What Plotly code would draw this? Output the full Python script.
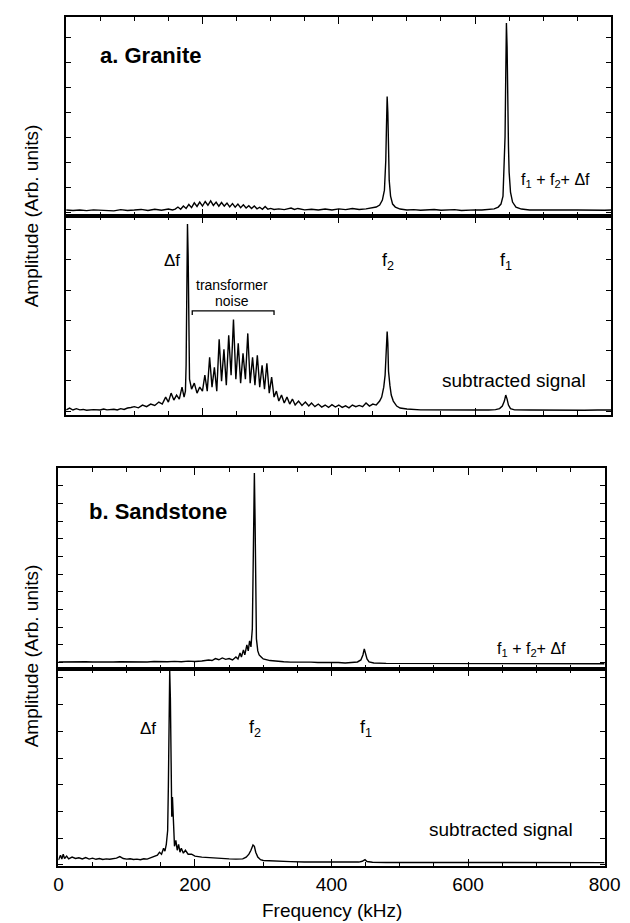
import plotly.graph_objects as go

# ---------------- data (frequency kHz, amplitude in % of panel height) -------------
ga_up_f = [0, 10, 20, 30, 40, 50, 60, 70, 80, 90, 100, 110, 120, 130, 140, 150, 156,
           160, 164, 168, 172, 176, 180, 184, 188, 192, 196, 200, 204, 208, 212, 216, 220, 224, 228,
           232, 236, 240, 244, 248, 252, 256, 260, 264, 268, 272, 276, 280, 284, 288, 292, 296, 300,
           305, 312, 320, 330, 335, 340, 350, 360, 370, 380,
           390, 400, 410, 420, 430, 440, 450, 455, 460, 464, 467, 469, 470, 471, 472, 473, 474, 476,
           479, 483, 490, 500, 510, 520, 530, 540, 550, 560, 570, 580, 590, 600, 610, 620, 628, 634,
           638, 641, 643, 644, 645, 646, 647, 648, 649, 650, 652, 655, 660, 668, 680, 690, 700, 710,
           720, 730, 740, 750, 760, 770, 780, 790, 800]
ga_up_a = [3.0, 2.8, 3.0, 2.7, 3.1, 2.9, 3.0, 2.6, 3.2, 2.8, 3.0, 3.3, 2.8, 3.4, 2.9, 3.5, 3.0,
           3.5, 4.5, 3.4, 5.0, 3.8, 5.8, 4.2, 6.6, 4.8, 7.0, 5.0, 7.3, 5.4, 7.6, 5.3, 7.0, 4.9, 6.8,
           5.0, 6.5, 4.6, 6.2, 4.4, 6.0, 4.2, 5.6, 4.0, 5.2, 3.8, 5.0, 3.6, 4.4, 3.4, 4.8, 3.4, 3.8,
           3.3, 3.6, 3.2, 4.0, 3.3, 3.8, 3.1, 3.4, 3.0, 3.5,
           3.0, 3.6, 3.2, 3.8, 3.3, 3.6, 4.0, 4.5, 5.5, 8.0, 13, 28, 45, 60, 52, 30, 18, 10,
           6, 4.5, 3.5, 3.0, 3.2, 2.9, 3.0, 3.3, 2.9, 3.0, 3.2, 2.8, 3.0, 3.1, 3.0, 3.3, 3.6, 4.5,
           6, 10, 25, 40, 70, 97, 85, 50, 35, 22, 12, 7, 4.5, 3.5, 3.0, 3.1, 2.9, 3.0,
           3.1, 2.9, 3.0, 3.0, 2.9, 3.1, 3.0, 2.9, 3.0]

ga_lo_f = [0, 5, 10, 15, 20, 25, 30, 40, 50, 55, 60, 70, 75, 80, 85, 90, 95,
           100, 106, 112, 118, 124, 130, 136, 141, 146, 150, 154, 158, 162, 166, 170, 173, 175,
           176, 177, 178, 179, 180, 181, 184, 188, 192, 196, 200,
           203.5, 207, 210.5, 214, 217.5, 221, 224.5, 228, 231.5, 235, 238.5, 242, 245.5, 249,
           252.5, 256, 259.5, 263, 266.5, 270, 273.5, 277, 280.5, 284, 287.5, 291, 294.5, 298,
           301.5, 305, 308.5, 312, 316, 320, 324, 328, 332, 336, 341, 346, 351, 356,
           360, 365, 370, 375, 380, 385, 390, 395, 400, 405, 410, 415, 420, 425, 430,
           435, 440, 445, 450, 455, 460, 463, 466, 468, 470, 471, 472, 473, 475, 477, 480, 485, 490,
           500, 520, 540, 560, 580, 600, 620, 630, 636, 640, 643, 645, 647, 649, 652, 658, 680, 700,
           720, 740, 760, 780, 800]
ga_lo_a = [2.5, 3.5, 2.5, 3.2, 2.6, 2.8, 2.4, 2.7, 2.5, 3.0, 2.6, 2.9, 2.5, 3.2, 2.8, 3.5, 3.8,
           4.2, 3.6, 5.0, 4.2, 5.5, 4.8, 6.5, 5.5, 9.0, 6.5, 11, 7.5, 10, 8, 14, 9, 12,
           25, 55, 96, 80, 40, 18, 13, 16, 11, 14, 12,
           20, 12, 29, 14, 24, 12, 38, 17, 33, 15, 40, 20, 48, 18,
           36, 16, 31, 18, 41, 16, 29, 15, 30, 14, 25, 13, 26, 11,
           19, 9, 12, 7, 10, 6, 9, 5.5, 8, 5, 7, 4.8, 6.5, 4.5,
           6, 4.2, 5.5, 4.0, 5.0, 3.8, 5.2, 4.0, 5.0, 3.8, 4.6, 3.6, 5.0, 4.2, 4.8,
           4.2, 6.0, 4.5, 5.5, 5.0, 7.0, 9.0, 14, 20, 34, 42, 36, 22, 15, 10, 7, 4.5, 3.5,
           3.0, 2.6, 2.5, 2.4, 2.5, 2.5, 2.5, 2.7, 3.2, 4.5, 7.0, 10, 8, 5, 3.2, 2.6, 2.5, 2.4,
           2.5, 2.5, 2.4, 2.5, 2.5]

sa_up_f = [0, 10, 20, 30, 40, 50, 60, 70, 80, 90, 100, 110, 120, 130, 140, 150, 160, 170, 180, 190,
           200, 210, 220, 225, 230, 235, 240, 245, 250, 255, 260, 263, 266, 268, 271, 273, 276, 278,
           280, 282, 284, 285, 286, 287, 288, 289, 290, 292, 294, 297, 300, 310, 320, 330, 340, 350,
           360, 370, 380, 390, 400, 410, 420, 430, 438, 443, 446, 448, 450, 452, 455, 462, 480, 500,
           520, 540, 560, 580, 600, 620, 640, 660, 680, 700, 720, 740, 760, 780, 800]
sa_up_a = [3.5, 3.6, 3.4, 3.5, 3.6, 3.5, 3.4, 3.6, 3.5, 3.6, 3.5, 3.4, 3.6, 3.5, 3.7, 3.5, 3.6, 3.8, 3.6, 3.9,
           3.7, 4.0, 4.5, 4.2, 5.2, 4.6, 5.5, 4.8, 5.2, 4.5, 6.0, 5.0, 8.0, 6.0, 9.5, 7.0, 12, 9.0,
           14, 11, 20, 45, 80, 97.5, 75, 40, 15, 9, 7, 6, 5, 4.2, 3.8, 3.6, 3.4, 3.5,
           3.3, 3.4, 3.2, 3.3, 3.1, 3.2, 3.0, 3.2, 3.5, 4.5, 7, 10, 8, 5, 3.5, 3.0, 2.8, 2.8,
           2.6, 2.7, 2.6, 2.7, 2.6, 2.7, 2.6, 2.7, 2.6, 2.7, 2.6, 2.7, 2.6, 2.7, 2.6]

sa_lo_f = [0, 3, 5, 7, 9, 12, 15, 20, 25, 30, 35, 40, 45, 50, 55, 60, 65, 70, 75, 80, 85, 90, 95,
           100, 105, 110, 115, 120, 125, 130, 135, 140, 145, 148, 151, 154, 156, 158, 160, 161, 162,
           163, 164, 165, 166, 167, 168, 169, 170, 172, 174, 176, 178, 180, 183, 186, 190, 195, 200,
           210, 220, 230, 240, 250, 260, 270, 275, 279, 282, 285, 287, 289, 292, 296, 300, 320, 340,
           360, 380, 400, 420, 440, 445, 449, 452, 460, 480, 500, 550, 600, 650, 700, 750, 800]
sa_lo_a = [3.0, 5.5, 3.5, 6.0, 3.8, 5.0, 3.6, 4.5, 3.8, 4.2, 3.6, 4.3, 3.5, 4.0, 3.4, 3.8, 3.3, 3.6, 3.4, 3.6, 4.0, 4.8, 3.8,
           3.5, 3.7, 3.3, 3.5, 3.2, 3.7, 3.5, 4.3, 5.0, 5.5, 7.0, 6.0, 9.0, 7.5, 11, 18, 40, 80,
           99, 85, 50, 25, 35, 23, 15, 10, 13, 8, 11, 7, 9, 6.5, 8, 6, 6.0, 5.0,
           4.5, 4.2, 4.0, 3.8, 3.6, 3.5, 3.6, 4.5, 6, 8, 10.7, 10, 7, 4.5, 3.2, 2.8, 2.4, 2.2,
           2.0, 2.0, 1.9, 1.9, 2.0, 2.4, 3.2, 2.3, 1.9, 1.8, 1.8, 1.8, 1.7, 1.7, 1.7, 1.7, 1.7]

x_tick_labels = ["0", "200", "400", "600", "800"]
x_tick_vals = [0, 200, 400, 600, 800]

# ---------------- figure -------------------------------------------------------------
W, H = 630, 923
FONT = "Liberation Sans, Arial, Helvetica, sans-serif"


def px(xp):
    return xp / W


def py(yp):
    return 1 - yp / H


fig = go.Figure()
series = [(ga_up_f, ga_up_a, "x", "y"), (ga_lo_f, ga_lo_a, "x2", "y2"),
          (sa_up_f, sa_up_a, "x3", "y3"), (sa_lo_f, sa_lo_a, "x4", "y4")]
for f, a, xa, ya in series:
    fig.add_trace(go.Scatter(x=f, y=a, xaxis=xa, yaxis=ya, mode="lines",
                             line=dict(color="black", width=1.4), showlegend=False,
                             hoverinfo="skip"))

# panel geometry (pixels): x-left, x-right, y-top, y-bottom
panels = {
    "1": (55, 619, 9, 208),
    "2": (55, 619, 208, 407),
    "3": (47, 612, 460, 661),
    "4": (47, 612, 661, 858),
}
ytick_spec = {"1": (2.0, 12.56), "2": (1.9, 15.2), "3": (3.2, 8.8), "4": (0.6, 13.55)}

layout = dict(width=W, height=H, margin=dict(l=0, r=0, t=0, b=0), autosize=False,
              paper_bgcolor="white", plot_bgcolor="white",
              font=dict(family=FONT, color="black", size=16))
for k, (xl, xr, yt, yb) in panels.items():
    xs = "xaxis" if k == "1" else "xaxis" + k
    ys = "yaxis" if k == "1" else "yaxis" + k
    yname = "y" if k == "1" else "y" + k
    xname = "x" if k == "1" else "x" + k
    layout[xs] = dict(domain=[px(xl), px(xr)], range=[0, 800], anchor=yname,
                      showline=True, linecolor="black", linewidth=1.8, mirror="allticks",
                      ticks="inside", ticklen=7, tickwidth=1.2, tickcolor="black",
                      tickvals=x_tick_vals, ticktext=x_tick_labels,
                      showticklabels=(k == "4"), tickfont=dict(size=19, family=FONT),
                      ticklabeloverflow="allow",
                      showgrid=False, zeroline=False, fixedrange=True,
                      minor=dict(dtick=50, tick0=0, ticks="inside", ticklen=4,
                                 tickwidth=1, tickcolor="black", showgrid=False))
    t0, dt = ytick_spec[k]
    layout[ys] = dict(domain=[py(yb), py(yt)], range=[0, 100], anchor=xname,
                      showline=True, linecolor="black", linewidth=1.8, mirror="allticks",
                      ticks="inside", ticklen=5, tickwidth=1.2, tickcolor="black",
                      tick0=t0, dtick=dt, showticklabels=False,
                      showgrid=False, zeroline=False, fixedrange=True)
fig.update_layout(**layout)

ann = []


def add_text(text, x, y, xref, yref, size, xanchor="center", bold=False, angle=0):
    ann.append(dict(text=("<b>%s</b>" % text) if bold else text, x=x, y=y, xref=xref, yref=yref,
                    showarrow=False, xanchor=xanchor, yanchor="middle", textangle=angle,
                    font=dict(size=size, family=FONT, color="black")))


# panel a
add_text("a. Granite", 46, 80.9, "x", "y", 22, xanchor="left", bold=True)
add_text("f<sub>1</sub> + f<sub>2</sub>+ Δf", 772, 17.6, "x", "y", 16, xanchor="right")
add_text("Δf", 156, 77.4, "x2", "y2", 17)
add_text("f<sub>2</sub>", 472, 77.0, "x2", "y2", 18)
add_text("f<sub>1</sub>", 646, 77.0, "x2", "y2", 18)
add_text("transformer", 244, 65.3, "x2", "y2", 14)
add_text("noise", 244, 57.3, "x2", "y2", 14)
add_text("subtracted signal", 548, 17.1, "x2", "y2", 19, xanchor="left")
# panel b
add_text("b. Sandstone", 42, 78.6, "x3", "y3", 22, xanchor="left", bold=True)
add_text("f<sub>1</sub> + f<sub>2</sub>+ Δf", 746, 9.5, "x3", "y3", 16, xanchor="right")
add_text("Δf", 131, 70.0, "x4", "y4", 17)
add_text("f<sub>2</sub>", 288, 70.0, "x4", "y4", 18)
add_text("f<sub>1</sub>", 450, 70.0, "x4", "y4", 18)
add_text("subtracted signal", 540, 18.3, "x4", "y4", 19, xanchor="left")
# axis titles
add_text("Amplitude (Arb. units)", px(19), py(208), "paper", "paper", 19, angle=-90)
add_text("Amplitude (Arb. units)", px(19), py(648), "paper", "paper", 19, angle=-90)
add_text("Frequency (kHz)", px(330), py(902), "paper", "paper", 19)
fig.update_layout(annotations=ann)

# transformer-noise bracket
fig.add_shape(type="path", path="M 185,50.3 L 185,52.3 L 305,52.3 L 305,50.3",
              xref="x2", yref="y2", line=dict(color="black", width=1.3))

fig.write_html("out.html", config={"responsive": False})
